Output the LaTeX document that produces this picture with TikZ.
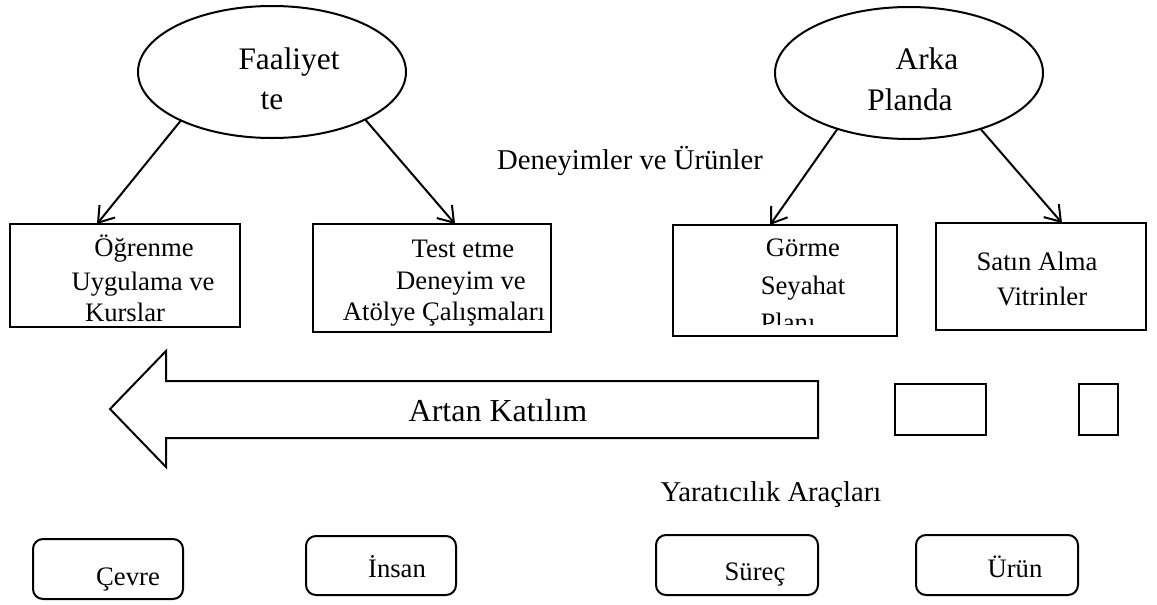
\documentclass[tikz,border=0pt]{standalone}
\usepackage{fontspec}
\setmainfont{Liberation Serif}
\usetikzlibrary{shapes.geometric,arrows.meta,calc}
\begin{document}
\begin{tikzpicture}[x=0.75pt,y=-0.75pt,
  every node/.style={inner sep=0pt,outer sep=0pt},
  oval/.style={draw,ellipse,line width=1.5pt,minimum width=201pt,minimum height=99pt},
  boxr/.style={draw,rectangle,line width=1.5pt},
  rbox/.style={draw,rectangle,rounded corners=7.5pt,line width=1.5pt},
  txt/.style={anchor=base,font=\fontsize{20}{24}\selectfont},
  lbl/.style={anchor=base,font=\fontsize{21.5}{26}\selectfont},
  bigtxt/.style={anchor=base,font=\fontsize{23.5}{28}\selectfont},
  conn/.style={line width=1.5pt,-{Straight Barb[length=11pt,width=15pt]}}
]
\useasboundingbox (0,0) rectangle (1157,604);

% ellipses
\node[oval] (e1) at (272,72) {};
\node[oval] (e2) at (909,73) {};
\node[bigtxt] (t1a) at (289,69) {Faaliyet};
\node[bigtxt] (t1b) at (272,109) {te};
\node[bigtxt] (t2a) at (927,69) {Arka};
\node[bigtxt] (t2b) at (910,110) {Planda};

% boxes
\node[boxr,minimum width=172.5pt,minimum height=77.25pt] (b1) at (125,275.5) {};
\node[boxr,minimum width=178.5pt,minimum height=81pt] (b2) at (432,278) {};
\node[boxr,minimum width=168pt,minimum height=83.25pt] (b3) at (785,280.5) {};
\node[boxr,minimum width=157.5pt,minimum height=80.25pt] (b4) at (1041,276.5) {};

\node[txt] (b1a) at (144,256) {Öğrenme};
\node[txt] (b1b) at (143,290) {Uygulama ve};
\node[txt] (b1c) at (125,321) {Kurslar};
\node[txt] (b2a) at (463,257) {Test etme};
\node[txt] (b2b) at (461,289) {Deneyim ve};
\node[txt] (b2c) at (444,320) {Atölye Çalışmaları};
\node[txt] (b3a) at (803,256) {Görme};
\node[txt] (b3b) at (803,294) {Seyahat};
\begin{scope}
\clip (675,227) rectangle (895,324);
\node[txt] (b3c) at (788,331) {Planı};
\end{scope}
\node[txt] (b4a) at (1037,270) {Satın Alma};
\node[txt] (b4b) at (1042,305) {Vitrinler};

% connectors
\draw[conn] (e1.208.6) -- ($(b1.north west)!0.378!(b1.north east)$);
\draw[conn] (e1.333.4) -- ($(b2.north west)!0.597!(b2.north east)$);
\draw[conn] (e2.218) -- ($(b3.north west)!0.433!(b3.north east)$);
\draw[conn] (e2.322.7) -- ($(b4.north west)!0.6!(b4.north east)$);

\node[lbl] (deney) at (630,169) {Deneyimler ve Ürünler};

% big arrow
\draw[line width=1.5pt,line join=miter] (818,381) -- (166,381) -- (166,351) -- (110,409) -- (166,467) -- (166,438) -- (818,438) -- cycle;
\node[bigtxt,font=\fontsize{24}{28}\selectfont] (artan) at (498,421) {Artan Katılım};

\node[boxr,minimum width=68.25pt,minimum height=38.25pt] (r1) at (940.5,409.5) {};
\node[boxr,minimum width=29.25pt,minimum height=38.25pt] (r2) at (1098.5,409.5) {};

\node[lbl] (yarat) at (771,501) {Yaratıcılık Araçları};

% rounded boxes
\node[rbox,minimum width=112.5pt,minimum height=45pt] (c1) at (108,569) {};
\node[rbox,minimum width=112.5pt,minimum height=44.25pt] (c2) at (381,565.5) {};
\node[rbox,minimum width=121.5pt,minimum height=45pt] (c3) at (737,565) {};
\node[rbox,minimum width=121.5pt,minimum height=45pt] (c4) at (997,565) {};
\node[txt] (c1t) at (128,585) {Çevre};
\node[txt] (c2t) at (397,577) {İnsan};
\node[txt] (c3t) at (755,580) {Süreç};
\node[txt] (c4t) at (1015,577) {Ürün};
\end{tikzpicture}
\end{document}
